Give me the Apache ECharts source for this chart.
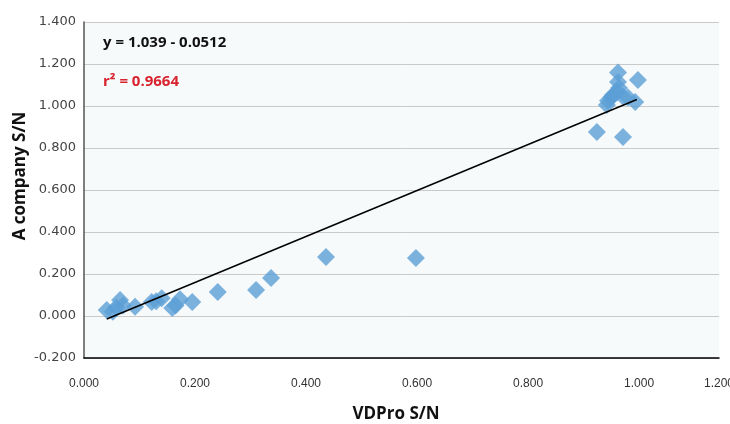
<!DOCTYPE html>
<html>
<head>
<meta charset="utf-8">
<script src="https://cdn.jsdelivr.net/npm/echarts@6/dist/echarts.min.js"></script>
<style>
  html, body { margin: 0; padding: 0; background: #fff; }
  #chart { width: 730px; height: 424px; }
</style>
</head>
<body>
<div id="chart"></div>
<script>
// VDPro S/N (x) vs A company S/N (y)
const vdpro = [0.041, 0.052, 0.058, 0.065, 0.070, 0.092, 0.122, 0.130, 0.140, 0.159, 0.165, 0.173, 0.195,
  0.241, 0.310, 0.337, 0.436, 0.598,
  0.924, 0.971, 0.942, 0.944, 0.950, 0.953, 0.960, 0.964, 0.962, 0.962, 0.971, 0.980, 0.993, 0.998]
const aCompany = [0.029, 0.020, 0.040, 0.076, 0.050, 0.044, 0.067, 0.070, 0.085, 0.038, 0.050, 0.080, 0.067,
  0.114, 0.124, 0.181, 0.281, 0.276,
  0.876, 0.852, 1.005, 1.025, 1.040, 1.052, 1.065, 1.086, 1.114, 1.160, 1.045, 1.040, 1.019, 1.124]

// trend line ends
const trendX = [0.041, 0.996]
const trendY = [-0.014, 1.031]

const xTicks = ['0.000', '0.200', '0.400', '0.600', '0.800', '1.000', '1.200']
const yTicks = ['-0.200', '0.000', '0.200', '0.400', '0.600', '0.800', '1.000', '1.200', '1.400']

const xMax = 1.144

const chart = echarts.init(document.getElementById('chart'))

const options = {
  animation: false,
  grid: {
    left: 84, right: 11, top: 22, bottom: 66,
    show: true,
    backgroundColor: '#f7fafb',
    borderWidth: 0,
    outerBoundsMode: 'none'
  },
  xAxis: {
    type: 'value',
    min: 0,
    max: xMax,
    interval: 0.2,
    splitLine: { show: false },
    axisTick: { show: false },
    axisLine: { onZero: false, lineStyle: { color: '#000', width: 1.5 } },
    axisLabel: {
      margin: 20,
      fontFamily: 'Liberation Sans',
      fontSize: 12,
      color: '#333',
      showMaxLabel: true,
      formatter: v => v >= xMax - 1e-6 ? xTicks[xTicks.length - 1] : xTicks[Math.round(v / 0.2)]
    }
  },
  yAxis: {
    type: 'value',
    min: -0.2,
    max: 1.4,
    interval: 0.2,
    splitLine: { lineStyle: { color: '#c9c9c9', width: 1 } },
    axisTick: { show: false },
    axisLine: { show: true, onZero: false, lineStyle: { color: '#555', width: 1.5 } },
    axisLabel: {
      margin: 8,
      fontFamily: 'DejaVu Sans',
      fontSize: 13,
      color: '#444',
      formatter: v => yTicks[Math.round((v + 0.2) / 0.2)]
    }
  },
  series: [
    {
      type: 'scatter',
      symbol: 'diamond',
      symbolSize: 18,
      itemStyle: { color: '#5b9fd6' },
      data: vdpro.map((x, i) => [x, aCompany[i]]),
      z: 2
    },
    {
      type: 'line',
      symbol: 'none',
      lineStyle: { color: '#000', width: 1.5 },
      data: trendX.map((x, i) => [x, trendY[i]]),
      z: 3
    }
  ],
  graphic: [
    {
      type: 'text', left: 103, top: 35,
      style: { text: 'y = 1.039 - 0.0512', fill: '#111', font: 'bold 15px "Open Sans"' }
    },
    {
      type: 'text', left: 103, top: 74,
      style: { text: 'r² = 0.9664', fill: '#d9232e', font: 'bold 15px "Open Sans"' }
    },
    {
      type: 'text', x: 396, y: 414,
      style: { text: 'VDPro S/N', fill: '#111', font: 'bold 17px "Open Sans"', align: 'center', verticalAlign: 'middle' }
    },
    {
      type: 'text', x: 20, y: 176, rotation: Math.PI / 2,
      style: { text: 'A company S/N', fill: '#111', font: 'bold 17px "Open Sans"', align: 'center', verticalAlign: 'middle' }
    }
  ]
}

chart.setOption(options)
</script>
</body>
</html>
